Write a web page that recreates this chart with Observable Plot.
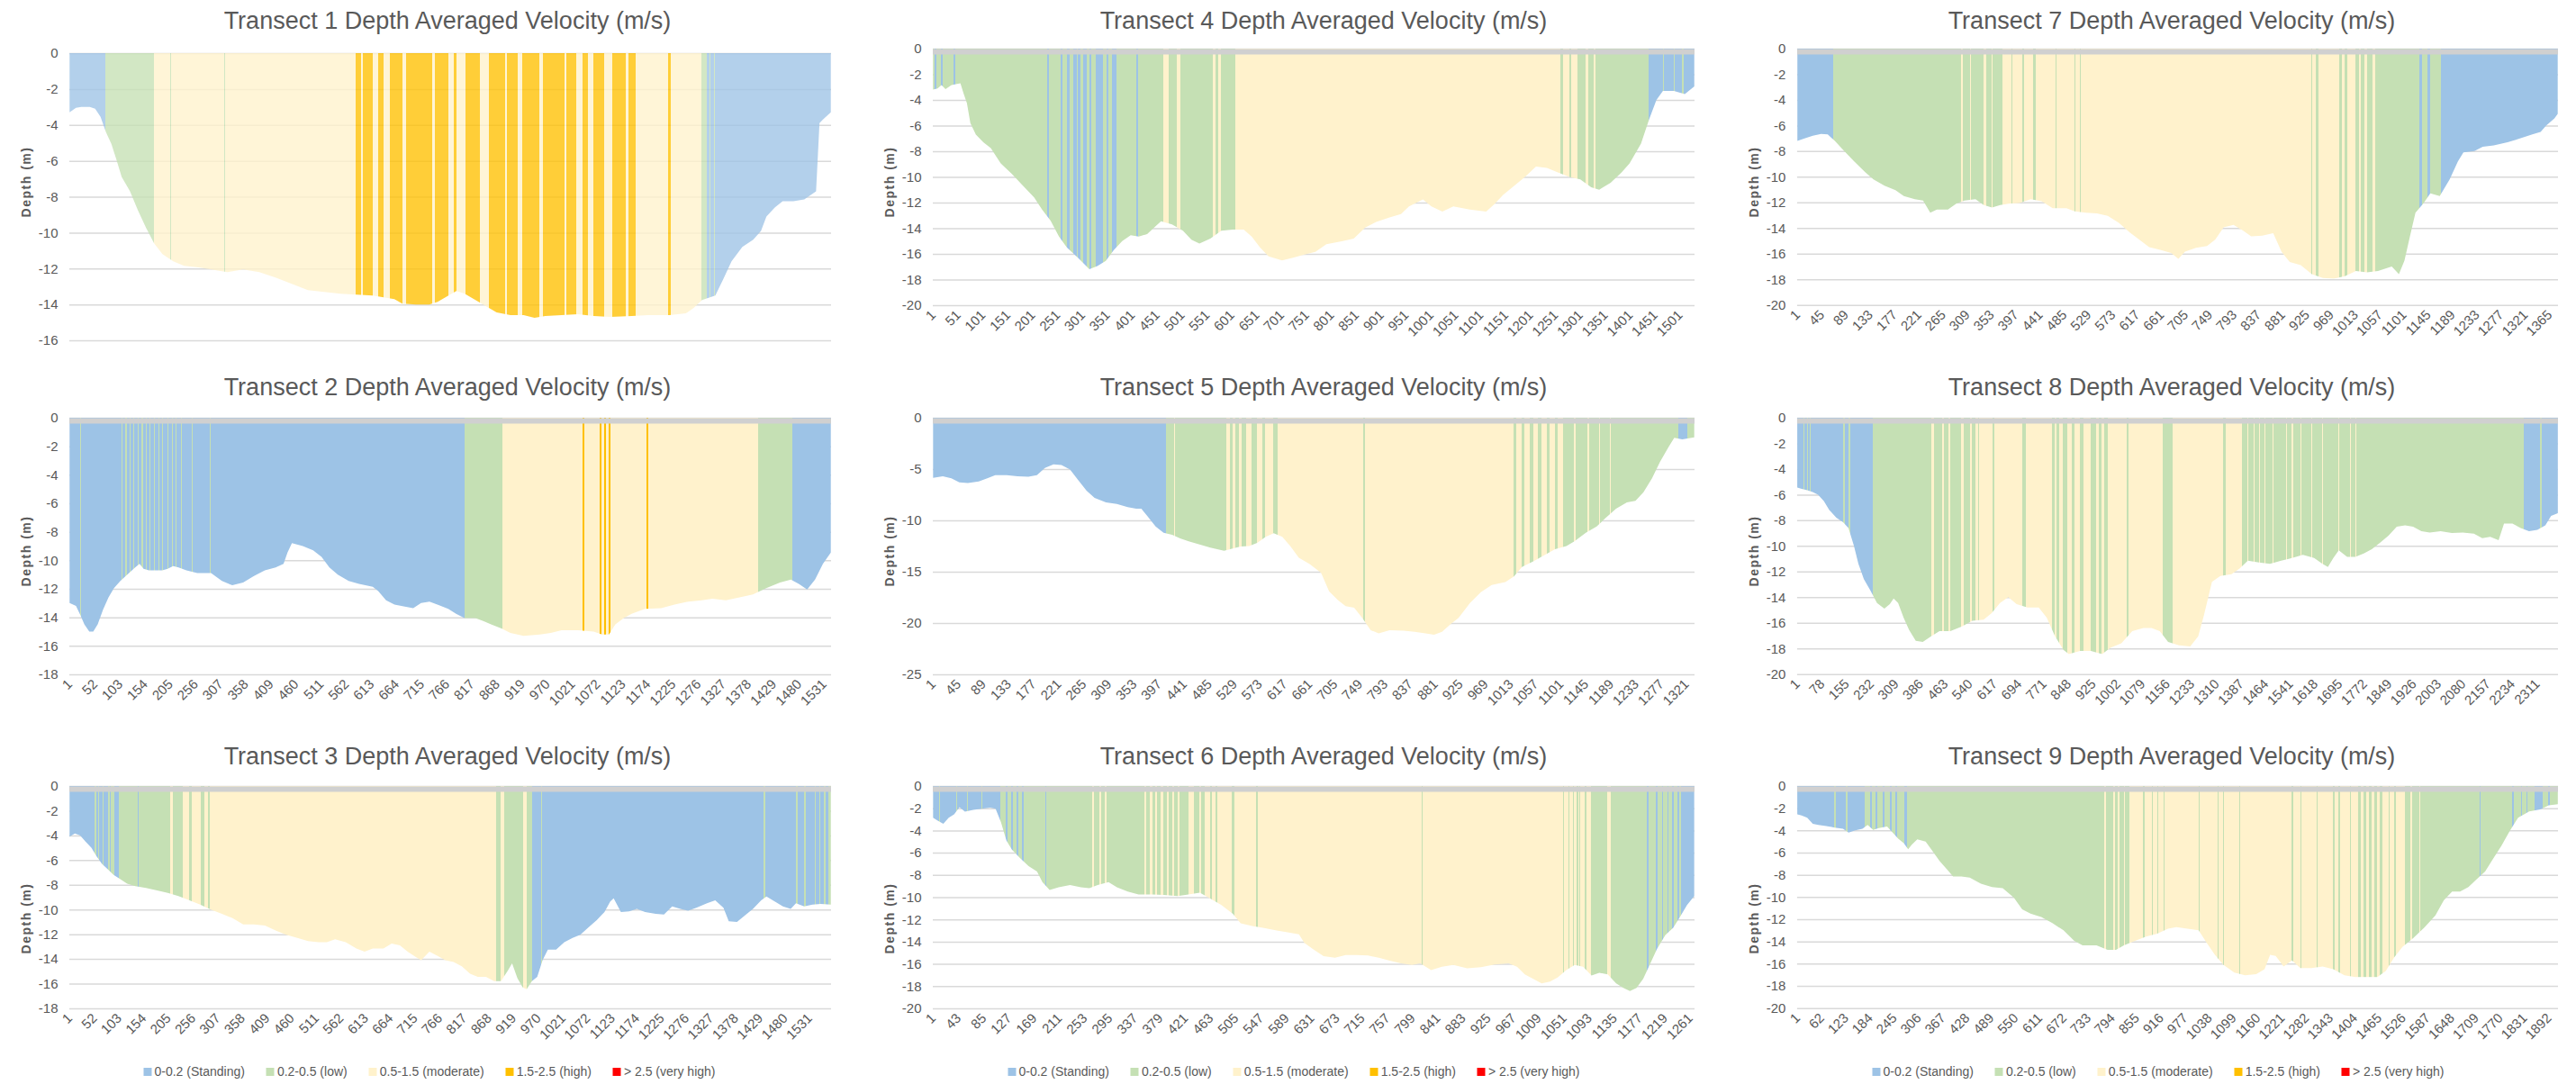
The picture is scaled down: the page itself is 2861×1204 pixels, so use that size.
<!DOCTYPE html>
<html><head><meta charset="utf-8">
<script src="https://cdn.jsdelivr.net/npm/d3@7"></script>
<script src="https://cdn.jsdelivr.net/npm/@observablehq/plot@0.6"></script>
<style>
body{margin:0;background:#fff;width:2861px;height:1204px;position:relative;overflow:hidden;font-family:"Liberation Sans",Arial,sans-serif;}
.title{position:absolute;font-size:27px;color:#595959;white-space:nowrap;transform:translateX(-50%);line-height:30px;}
.panel{position:absolute;}
.panel svg text{font-size:15px;fill:#595959;font-family:"Liberation Sans",Arial,sans-serif;}
.ylab{position:absolute;font-size:14px;font-weight:bold;letter-spacing:1.5px;color:#595959;white-space:nowrap;transform:translate(-50%,-50%) rotate(-90deg);line-height:16px;}
.legend{position:absolute;display:flex;gap:24px;transform:translateX(-50%);font-size:14px;color:#595959;white-space:nowrap;line-height:18px;}
.legend .sw{display:inline-block;width:9px;height:9px;margin-right:3px;vertical-align:0px;}
</style></head><body>
<script>
// ---------- DATA ----------
const categories = ["0-0.2 (Standing)", "0.2-0.5 (low)", "0.5-1.5 (moderate)", "1.5-2.5 (high)", "> 2.5 (very high)"];
const categoryColors = ["#9dc3e6", "#c5e0b4", "#fff2cc", "#ffc000", "#ff0000"];
const transectTitles = [1,2,3,4,5,6,7,8,9].map(t => `Transect ${t} Depth Averaged Velocity (m/s)`);
const yAxisTitle = "Depth (m)";
const ensembleCount = [1550, 1545, 1575, 1530, 1335, 1268, 1380, 2376, 1915];
const labelStep = [0, 51, 51, 50, 44, 42, 44, 77, 61];
const depthMin = [-16, -18, -18, -20, -25, -20, -20, -20, -20];
const depthTick = [2, 2, 2, 2, 5, 2, 2, 2, 2];

// bed profiles: [ensemble, depth (m)]
const bed1 = [[1,-3.3],[14,-3.05],[25,-3.0],[42,-3.0],[53,-3.1],[64,-3.55],[75,-4.4],[86,-5.05],[96,-5.9],[107,-6.9],[124,-7.7],[140,-8.75],[157,-9.75],[173,-10.6],[190,-11.2],[212,-11.6],[234,-11.85],[267,-11.95],[300,-12.1],[322,-12.2],[354,-12.05],[387,-12.2],[420,-12.5],[453,-12.85],[486,-13.2],[519,-13.3],[552,-13.4],[585,-13.45],[618,-13.5],[640,-13.6],[662,-13.7],[678,-13.95],[706,-14.0],[733,-14.0],[750,-13.85],[772,-13.5],[788,-13.25],[805,-13.4],[827,-13.75],[848,-14.1],[870,-14.45],[898,-14.6],[925,-14.6],[947,-14.75],[969,-14.65],[1002,-14.6],[1035,-14.55],[1068,-14.65],[1101,-14.7],[1145,-14.65],[1178,-14.6],[1222,-14.6],[1255,-14.5],[1271,-14.2],[1288,-13.75],[1304,-13.6],[1315,-13.5],[1331,-12.6],[1348,-11.6],[1370,-10.8],[1392,-10.4],[1408,-9.9],[1419,-9.1],[1436,-8.6],[1452,-8.25],[1474,-8.25],[1496,-8.15],[1520,-7.7],[1527,-3.9],[1534,-3.7],[1550,-3.3]];
const bed2 = [[1,-13.0],[14,-13.2],[23,-13.85],[31,-14.5],[41,-15.0],[49,-15.0],[58,-14.5],[69,-13.45],[80,-12.6],[91,-11.95],[104,-11.45],[118,-11.0],[134,-10.5],[143,-10.25],[151,-10.6],[162,-10.7],[189,-10.7],[200,-10.6],[211,-10.4],[222,-10.5],[238,-10.7],[260,-10.9],[288,-10.9],[310,-11.45],[331,-11.75],[353,-11.55],[375,-11.1],[397,-10.7],[419,-10.5],[435,-10.25],[443,-9.45],[452,-8.8],[474,-9.0],[495,-9.3],[512,-9.75],[528,-10.5],[545,-11.0],[567,-11.45],[588,-11.65],[616,-11.85],[627,-12.15],[643,-12.8],[660,-13.1],[681,-13.25],[698,-13.35],[714,-13.0],[731,-12.9],[747,-13.1],[769,-13.4],[785,-13.75],[802,-14.05],[824,-14.05],[840,-14.25],[856,-14.5],[878,-14.8],[895,-15.1],[922,-15.3],[955,-15.2],[977,-15.1],[999,-14.9],[1032,-14.9],[1064,-15.0],[1081,-15.2],[1095,-15.2],[1108,-14.5],[1125,-14.05],[1141,-13.75],[1168,-13.4],[1201,-13.35],[1228,-13.1],[1256,-12.9],[1283,-12.8],[1305,-12.7],[1332,-12.8],[1360,-12.6],[1387,-12.4],[1414,-11.95],[1442,-11.55],[1464,-11.35],[1480,-11.65],[1497,-12.05],[1513,-11.35],[1529,-10.25],[1545,-9.45]];
const bed3 = [[1,-4.1],[12,-3.85],[23,-4.0],[34,-4.5],[46,-5.0],[57,-5.7],[68,-6.3],[79,-6.7],[92,-7.2],[106,-7.55],[120,-7.9],[137,-8.1],[159,-8.25],[182,-8.45],[204,-8.65],[226,-8.9],[249,-9.25],[271,-9.6],[293,-10.0],[316,-10.35],[338,-10.7],[360,-11.2],[382,-11.2],[405,-11.3],[427,-11.7],[449,-12.05],[472,-12.3],[494,-12.55],[516,-12.65],[533,-12.65],[550,-12.4],[572,-12.65],[594,-13.15],[611,-13.4],[628,-13.15],[650,-13.15],[667,-12.75],[684,-12.9],[700,-13.4],[717,-13.85],[728,-14.1],[745,-13.4],[762,-13.75],[778,-14.1],[795,-14.25],[812,-14.6],[829,-15.2],[845,-15.45],[862,-15.45],[879,-15.8],[893,-15.8],[907,-14.95],[916,-14.35],[927,-15.55],[938,-16.3],[946,-16.45],[957,-15.8],[968,-15.45],[979,-14.1],[990,-13.25],[1007,-13.25],[1024,-12.65],[1041,-12.3],[1057,-12.05],[1074,-11.45],[1091,-10.85],[1107,-10.2],[1119,-9.35],[1126,-9.1],[1141,-10.2],[1158,-10.15],[1174,-9.95],[1191,-10.2],[1213,-10.35],[1230,-10.4],[1247,-9.75],[1264,-9.95],[1280,-10.1],[1297,-9.85],[1319,-9.5],[1336,-9.25],[1353,-9.85],[1364,-10.95],[1381,-11.0],[1398,-10.45],[1414,-9.95],[1431,-9.25],[1442,-8.95],[1459,-9.35],[1476,-9.75],[1492,-9.95],[1503,-9.5],[1520,-9.75],[1537,-9.6],[1554,-9.55],[1575,-9.6]];
const bed4 = [[1,-3.2],[10,-3.1],[18,-2.85],[26,-3.15],[38,-2.85],[49,-2.75],[56,-2.7],[62,-3.45],[69,-4.25],[76,-5.8],[87,-6.7],[102,-7.3],[117,-7.75],[137,-8.95],[159,-9.75],[182,-10.7],[204,-11.6],[220,-12.55],[237,-13.4],[254,-14.65],[270,-15.5],[292,-16.3],[315,-17.2],[331,-16.95],[348,-16.55],[364,-15.7],[381,-15.0],[398,-14.55],[414,-14.65],[431,-14.45],[448,-13.85],[459,-13.45],[481,-13.7],[503,-14.2],[520,-14.9],[536,-15.2],[558,-14.8],[580,-14.2],[603,-14.1],[625,-14.1],[641,-14.65],[658,-15.5],[675,-16.2],[702,-16.5],[724,-16.3],[747,-16.05],[769,-15.85],[791,-15.25],[824,-15.0],[846,-14.8],[869,-13.95],[891,-13.5],[918,-13.15],[941,-12.9],[957,-12.3],[985,-11.75],[1002,-12.3],[1024,-12.7],[1046,-12.3],[1079,-12.55],[1112,-12.7],[1129,-12.1],[1146,-11.4],[1168,-10.7],[1190,-10.0],[1212,-9.2],[1234,-9.3],[1256,-9.65],[1279,-10.0],[1301,-10.2],[1323,-10.8],[1339,-11.0],[1362,-10.45],[1384,-9.65],[1400,-8.95],[1423,-7.4],[1439,-5.55],[1454,-4.0],[1467,-3.3],[1489,-3.3],[1511,-3.55],[1530,-2.95]];
const bed5 = [[1,-5.85],[18,-5.7],[33,-5.9],[47,-6.3],[62,-6.35],[81,-6.2],[96,-5.9],[110,-5.6],[130,-5.6],[149,-5.7],[168,-5.75],[183,-5.6],[197,-4.9],[212,-4.55],[226,-4.6],[241,-5.05],[255,-6.05],[270,-7.1],[284,-7.8],[304,-8.25],[323,-8.4],[342,-8.7],[357,-8.85],[366,-8.85],[376,-9.55],[391,-10.6],[405,-11.2],[420,-11.4],[434,-11.75],[449,-12.05],[468,-12.35],[487,-12.65],[511,-12.95],[526,-12.75],[540,-12.55],[555,-12.5],[569,-12.2],[584,-11.6],[598,-11.25],[613,-11.6],[627,-12.5],[642,-13.65],[661,-14.25],[681,-15.1],[695,-16.9],[710,-17.75],[724,-18.35],[739,-18.5],[753,-19.5],[768,-20.7],[782,-21.0],[801,-20.7],[826,-20.75],[845,-20.85],[864,-21.0],[879,-21.15],[893,-20.85],[908,-20.1],[922,-19.5],[942,-18.05],[961,-17.0],[980,-16.3],[1004,-16.0],[1019,-15.45],[1033,-14.55],[1053,-14.0],[1072,-13.4],[1091,-12.8],[1111,-12.5],[1125,-12.05],[1145,-11.2],[1164,-10.6],[1178,-9.85],[1198,-8.85],[1217,-8.25],[1232,-8.1],[1246,-7.25],[1261,-5.9],[1275,-4.3],[1290,-2.85],[1300,-1.95],[1314,-2.1],[1335,-1.9]];
const bed6 = [[1,-2.85],[8,-3.1],[18,-3.4],[27,-2.85],[36,-2.55],[45,-1.9],[54,-2.3],[68,-2.15],[82,-2.05],[96,-1.95],[105,-2.05],[114,-3.25],[123,-4.9],[132,-5.7],[146,-6.5],[160,-7.2],[174,-7.7],[183,-8.65],[195,-9.35],[210,-9.1],[229,-8.9],[247,-9.1],[261,-9.2],[275,-8.9],[293,-8.65],[307,-9.1],[325,-9.5],[343,-9.75],[366,-9.75],[385,-9.8],[408,-9.9],[426,-9.75],[445,-9.6],[463,-10.15],[481,-10.7],[500,-11.5],[513,-12.35],[532,-12.6],[550,-12.75],[573,-13.0],[591,-13.15],[610,-13.35],[619,-14.1],[633,-14.65],[651,-15.3],[670,-15.45],[688,-15.2],[706,-15.2],[725,-15.25],[743,-15.45],[761,-15.7],[780,-15.95],[798,-16.1],[812,-15.95],[830,-16.55],[848,-16.25],[867,-16.1],[890,-16.4],[913,-16.3],[936,-16.05],[959,-15.95],[973,-16.25],[986,-16.95],[1000,-17.35],[1014,-17.75],[1028,-17.6],[1041,-17.2],[1055,-16.55],[1069,-16.1],[1083,-16.25],[1097,-17.05],[1110,-16.8],[1124,-16.95],[1138,-17.75],[1150,-18.15],[1161,-18.45],[1172,-18.15],[1183,-17.35],[1195,-15.95],[1206,-14.65],[1220,-13.4],[1233,-12.75],[1244,-11.8],[1256,-10.7],[1268,-9.9]];
const bed7 = [[1,-7.2],[14,-7.0],[29,-6.8],[44,-6.65],[56,-6.7],[69,-7.2],[84,-7.9],[104,-8.8],[124,-9.65],[139,-10.2],[159,-10.7],[179,-11.05],[194,-11.5],[214,-11.75],[229,-11.85],[242,-12.8],[254,-12.55],[274,-12.55],[289,-12.1],[304,-11.85],[324,-11.75],[339,-12.2],[354,-12.4],[369,-12.2],[384,-12.1],[404,-12.05],[424,-11.75],[444,-11.9],[464,-12.45],[489,-12.45],[504,-12.7],[524,-12.8],[544,-12.85],[564,-13.05],[584,-13.6],[604,-14.35],[624,-15.0],[639,-15.5],[659,-15.7],[679,-15.95],[692,-16.4],[704,-15.85],[724,-15.55],[744,-15.4],[759,-14.9],[774,-13.95],[792,-13.75],[809,-14.2],[824,-14.65],[844,-14.6],[864,-14.4],[879,-15.85],[894,-16.65],[914,-16.9],[934,-17.6],[954,-17.9],[974,-17.95],[994,-17.75],[1014,-17.35],[1034,-17.45],[1054,-17.35],[1079,-17.0],[1092,-17.6],[1102,-16.55],[1112,-14.65],[1122,-12.8],[1136,-12.1],[1149,-11.3],[1166,-11.5],[1184,-10.2],[1199,-8.8],[1209,-8.1],[1229,-8.0],[1244,-7.65],[1264,-7.55],[1289,-7.3],[1309,-7.05],[1334,-6.7],[1349,-6.5],[1359,-6.0],[1374,-5.45],[1380,-5.1]];
const bed8 = [[1,-5.45],[15,-5.55],[32,-5.65],[49,-5.8],[66,-6.0],[84,-6.5],[101,-7.2],[123,-7.8],[144,-8.15],[161,-8.6],[178,-10.0],[192,-11.4],[209,-12.6],[230,-13.5],[250,-14.45],[273,-14.9],[290,-14.55],[302,-14.1],[316,-14.45],[333,-15.6],[350,-16.55],[371,-17.4],[393,-17.5],[419,-17.05],[445,-16.65],[479,-16.65],[514,-16.3],[548,-15.85],[583,-15.75],[608,-15.25],[634,-14.45],[660,-14.0],[686,-14.55],[720,-14.8],[755,-14.8],[780,-15.6],[806,-17.05],[832,-18.1],[849,-18.45],[884,-18.2],[918,-18.2],[953,-18.45],[979,-17.95],[1013,-17.6],[1047,-16.65],[1082,-16.4],[1107,-16.4],[1133,-16.65],[1159,-17.5],[1193,-17.75],[1228,-17.85],[1253,-17.05],[1271,-15.4],[1296,-12.8],[1322,-12.35],[1357,-12.2],[1383,-11.75],[1408,-11.15],[1443,-11.3],[1477,-11.4],[1512,-11.15],[1546,-10.95],[1580,-10.7],[1615,-10.95],[1641,-11.4],[1658,-11.65],[1675,-10.95],[1692,-10.35],[1718,-10.85],[1744,-10.85],[1770,-10.6],[1795,-10.25],[1821,-9.75],[1847,-9.2],[1873,-8.5],[1899,-8.4],[1924,-8.5],[1950,-8.85],[1976,-8.95],[2010,-8.85],[2045,-9.0],[2079,-8.95],[2114,-9.05],[2140,-9.4],[2165,-9.3],[2191,-9.55],[2208,-8.25],[2234,-8.25],[2260,-8.6],[2286,-8.85],[2312,-8.75],[2337,-8.4],[2355,-7.65],[2376,-7.45]];
const bed9 = [[1,-2.55],[12,-2.65],[26,-2.85],[40,-3.4],[54,-3.5],[74,-3.6],[95,-3.75],[116,-3.85],[130,-4.2],[147,-4.0],[165,-3.85],[178,-3.5],[192,-3.95],[206,-3.8],[227,-3.65],[241,-4.2],[255,-4.75],[269,-5.15],[280,-5.7],[289,-5.3],[303,-4.8],[324,-5.0],[338,-5.7],[359,-6.75],[380,-7.6],[393,-8.15],[414,-8.15],[435,-8.25],[463,-8.8],[491,-9.1],[518,-9.2],[546,-10.05],[567,-11.1],[588,-11.5],[615,-11.8],[643,-12.35],[671,-13.0],[698,-13.95],[719,-14.35],[754,-14.35],[782,-14.75],[803,-14.75],[823,-14.35],[851,-13.95],[879,-13.55],[907,-13.3],[934,-12.85],[955,-12.7],[983,-12.85],[1011,-13.0],[1031,-14.1],[1052,-15.2],[1073,-16.1],[1101,-16.8],[1128,-17.05],[1156,-16.95],[1177,-16.5],[1191,-15.2],[1205,-15.3],[1225,-16.25],[1246,-15.7],[1267,-16.4],[1295,-16.4],[1323,-16.25],[1350,-16.5],[1378,-17.05],[1406,-17.2],[1433,-17.2],[1461,-17.2],[1482,-16.65],[1503,-15.45],[1524,-14.5],[1551,-13.7],[1579,-12.75],[1607,-11.65],[1628,-10.3],[1649,-9.5],[1669,-9.5],[1690,-9.1],[1711,-8.4],[1732,-7.7],[1753,-6.5],[1773,-5.4],[1794,-4.05],[1815,-2.85],[1843,-2.3],[1871,-2.1],[1892,-1.75],[1915,-1.65]];

// velocity class runs: [first ensemble, class index]
const runs1 = [[1,0],[75,1],[173,2],[206,1],[208,2],[316,1],[318,2],[583,3],[594,2],[598,3],[618,2],[629,3],[640,2],[653,3],[678,2],[686,3],[739,2],[744,3],[772,2],[783,3],[788,2],[807,3],[837,2],[854,3],[887,2],[892,3],[914,2],[923,3],[958,2],[964,3],[1008,2],[1013,3],[1033,2],[1046,3],[1057,2],[1068,3],[1090,2],[1106,3],[1134,2],[1139,3],[1154,2],[1220,3],[1224,2],[1288,1],[1299,0],[1304,1],[1306,0],[1312,1],[1314,0]];
const runs2 = [[1,0],[23,1],[25,0],[107,1],[109,0],[115,1],[117,0],[124,1],[126,0],[131,1],[133,0],[139,1],[141,0],[148,1],[150,0],[156,1],[158,0],[164,1],[166,0],[173,1],[175,0],[182,1],[184,0],[189,1],[191,0],[200,1],[202,0],[209,1],[211,0],[217,1],[219,0],[227,1],[229,0],[249,1],[251,0],[285,1],[287,0],[802,1],[880,2],[1042,3],[1046,2],[1077,3],[1081,2],[1085,3],[1089,2],[1095,3],[1099,2],[1171,3],[1175,2],[1398,1],[1467,0]];
const runs3 = [[1,0],[53,1],[56,0],[61,1],[63,0],[70,1],[72,0],[81,1],[84,0],[87,1],[95,0],[104,1],[143,0],[145,1],[210,2],[215,1],[235,2],[249,1],[254,2],[273,1],[280,2],[288,1],[291,2],[884,1],[893,2],[901,1],[940,2],[946,1],[957,0],[977,1],[979,0],[1437,1],[1440,0],[1504,1],[1507,0],[1520,1],[1523,0],[1543,1],[1545,0],[1552,1],[1554,0],[1562,1],[1565,0],[1571,1]];
const runs4 = [[1,1],[4,0],[8,1],[18,0],[21,1],[43,0],[46,1],[231,0],[234,1],[257,0],[261,1],[270,0],[276,1],[284,0],[290,1],[292,0],[298,1],[303,0],[310,1],[315,0],[320,1],[328,0],[342,1],[350,0],[354,1],[361,0],[370,1],[409,0],[414,1],[464,2],[475,1],[492,2],[498,1],[564,2],[569,1],[575,2],[580,1],[608,2],[1262,1],[1267,2],[1279,1],[1283,2],[1295,1],[1312,2],[1317,1],[1328,2],[1332,1],[1439,0],[1467,1],[1470,0],[1489,1],[1492,0],[1505,1],[1509,0]];
const runs5 = [[1,0],[409,1],[424,2],[426,1],[516,2],[521,1],[526,2],[531,1],[538,2],[543,1],[550,2],[560,1],[569,2],[579,1],[584,2],[598,1],[606,2],[756,1],[758,2],[1019,1],[1024,2],[1033,1],[1038,2],[1048,1],[1053,2],[1062,1],[1067,2],[1077,1],[1082,2],[1091,1],[1096,2],[1106,1],[1125,2],[1127,1],[1149,2],[1151,1],[1169,2],[1171,1],[1188,2],[1190,1],[1307,0],[1323,1]];
const runs6 = [[1,0],[11,1],[13,0],[40,1],[42,0],[58,1],[60,0],[82,1],[84,0],[114,1],[123,0],[125,1],[132,0],[134,1],[141,0],[143,1],[150,0],[152,1],[188,0],[190,1],[266,2],[269,1],[279,2],[282,1],[288,2],[291,1],[353,2],[356,1],[362,2],[366,1],[371,2],[374,1],[380,2],[385,1],[391,2],[394,1],[399,2],[402,1],[408,2],[411,1],[426,2],[436,1],[445,2],[448,1],[454,2],[462,1],[465,2],[471,1],[474,2],[499,1],[503,2],[539,1],[542,2],[815,1],[817,2],[1050,1],[1052,2],[1059,1],[1061,2],[1066,1],[1068,2],[1073,1],[1075,2],[1077,1],[1079,2],[1086,1],[1089,2],[1096,1],[1124,2],[1129,1],[1190,0],[1192,1],[1205,0],[1207,1],[1215,0],[1217,1],[1224,0],[1226,1],[1232,0],[1235,1],[1240,0],[1243,1],[1246,0]];
const runs7 = [[1,0],[66,1],[299,2],[302,1],[314,2],[317,1],[339,2],[344,1],[354,2],[356,1],[374,2],[389,1],[392,2],[409,1],[412,2],[429,1],[434,2],[469,1],[471,2],[504,1],[506,2],[514,1],[516,2],[934,1],[936,2],[942,1],[946,2],[984,1],[989,2],[994,1],[999,2],[1014,1],[1020,2],[1024,1],[1030,2],[1034,1],[1044,2],[1049,1],[1129,0],[1134,1],[1144,0],[1149,1],[1169,0]];
const runs8 = [[1,0],[20,1],[23,0],[32,1],[35,0],[41,1],[44,0],[144,1],[149,0],[161,1],[166,0],[238,1],[419,2],[428,1],[453,2],[459,1],[474,2],[479,1],[514,2],[522,1],[540,2],[548,1],[557,2],[565,1],[570,2],[612,1],[617,2],[703,1],[715,2],[798,1],[806,2],[811,1],[818,2],[832,1],[846,2],[858,1],[866,2],[884,1],[894,2],[918,1],[935,2],[944,1],[952,2],[961,1],[970,2],[1030,1],[1035,2],[1142,1],[1173,2],[1331,1],[1340,2],[1391,1],[1408,2],[1411,1],[1426,2],[1429,1],[1443,2],[1446,1],[1460,2],[1463,1],[1486,2],[1489,1],[1529,2],[1532,1],[1546,2],[1549,1],[1572,2],[1575,1],[1606,2],[1609,1],[1641,2],[1644,1],[1692,2],[1695,1],[1727,2],[1730,1],[1744,2],[1747,1],[2269,0],[2321,1],[2325,0]];
const runs9 = [[1,0],[95,1],[99,0],[123,1],[127,0],[171,1],[185,0],[189,1],[199,0],[203,1],[216,0],[220,1],[234,0],[238,1],[248,0],[252,1],[271,0],[278,1],[775,2],[779,1],[796,2],[800,1],[809,2],[813,1],[823,2],[827,1],[837,2],[872,1],[875,2],[893,1],[896,2],[907,1],[910,2],[923,1],[926,2],[1011,1],[1014,2],[1059,1],[1062,2],[1073,1],[1076,2],[1114,1],[1117,2],[1246,1],[1249,2],[1267,1],[1270,2],[1308,1],[1311,2],[1350,1],[1353,2],[1364,1],[1367,2],[1392,1],[1395,2],[1413,1],[1420,2],[1427,1],[1434,2],[1441,1],[1447,2],[1454,1],[1460,2],[1468,1],[1474,2],[1490,1],[1493,2],[1504,1],[1507,2],[1531,1],[1545,2],[1548,1],[1566,2],[1569,1],[1718,0],[1720,1],[1801,0],[1804,1],[1822,0],[1825,1],[1836,0],[1839,1],[1857,0],[1878,1],[1892,0],[1895,1]];

const beds = [bed1, bed2, bed3, bed4, bed5, bed6, bed7, bed8, bed9];
const runs = [runs1, runs2, runs3, runs4, runs5, runs6, runs7, runs8, runs9];

// ---------- LAYOUT ----------
const colX = [0, 954, 1908];
const colMarginLeft = [77, 82, 88];
const titleCenter = [497, 1470, 2412];
const legendCenter = [477, 1437, 2397];
const yTitleCenterY = [202, 612, 1020];
const frameW = 846;
const svgTop = [40, 445, 855];
const titleTop = [8, 415, 825];
const FONT = '"Liberation Sans", Arial, sans-serif';
const ns = "http://www.w3.org/2000/svg";

function drawPanel(t) {
  const i = t - 1, col = Math.floor(i / 3), row = i % 3;
  const N = ensembleCount[i], dMin = depthMin[i];
  const frameTop = row === 0 ? (t === 1 ? 59 : 54) : row === 1 ? 464 : 873;
  const frameBottom = row === 0 ? (t === 1 ? 378 : 339) : row === 1 ? 749 : 1120;
  const top = svgTop[row];
  const mb = 60;
  const ml = colMarginLeft[col];
  const width = 954;
  const height = frameBottom - top + mb;
  const yTicks = d3.range(0, dMin - 0.001, -depthTick[i]);
  const xTicks = labelStep[i] ? d3.range(1, N + 1, labelStep[i]) : [];
  const runRows = runs[i].map(([s, c], k, a) => ({
    x1: s - 0.5,
    x2: (k + 1 < a.length ? a[k + 1][0] : N + 1) - 0.5,
    y1: 0, y2: dMin, c
  }));
  const marks = [
    Plot.ruleY(yTicks, {stroke: "#d9d9d9", strokeWidth: 1.5}),
    Plot.rect(runRows, {x1: "x1", x2: "x2", y1: "y1", y2: "y2",
      fill: d => categoryColors[d.c], fillOpacity: t === 1 ? 0.78 : 1, shapeRendering: "crispEdges"}),
    Plot.areaY(beds[i], {x: d => d[0], y1: () => 0, y2: d => d[1], fill: "#ffffff", fillOpacity: 0})
  ];
  if (t !== 1) marks.push(Plot.ruleY([0], {stroke: "#d0d0d0", strokeWidth: 6, dy: 3}));
  marks.push(Plot.axisY({ticks: yTicks, tickSize: 0, tickPadding: 13, tickFormat: d => String(d),
    fontSize: 15, fill: "#595959", label: null}));
  if (xTicks.length) marks.push(Plot.axisX({ticks: xTicks, tickSize: 0, tickPadding: 8, tickRotate: -45,
    tickFormat: d => String(d), fontSize: 15, fill: "#595959", label: null}));

  const svg = Plot.plot({
    width, height,
    marginLeft: ml, marginRight: width - ml - frameW,
    marginTop: frameTop - top, marginBottom: mb,
    x: {domain: [0.5, N + 0.5], axis: xTicks.length ? undefined : null},
    y: {domain: [dMin, 0]},
    color: {type: "identity"},
    style: {fontFamily: FONT, fontSize: "15px", color: "#595959", background: "transparent", overflow: "visible"},
    marks
  });

  // clip the velocity bands to the water column drawn by the area mark
  const areaPath = svg.querySelector('g[aria-label="area"] path');
  const rectG = svg.querySelector('g[aria-label="rect"]');
  if (areaPath && rectG) {
    const defs = document.createElementNS(ns, "defs");
    const cp = document.createElementNS(ns, "clipPath");
    cp.setAttribute("id", "water-" + t);
    const p = document.createElementNS(ns, "path");
    p.setAttribute("d", areaPath.getAttribute("d"));
    const tr = areaPath.parentNode.getAttribute("transform");
    if (tr) p.setAttribute("transform", tr);
    cp.appendChild(p); defs.appendChild(cp);
    svg.insertBefore(defs, svg.firstChild);
    rectG.setAttribute("clip-path", `url(#water-${t})`);
  }

  const wrap = document.createElement("div");
  wrap.className = "panel";
  wrap.style.left = colX[col] + "px";
  wrap.style.top = top + "px";
  wrap.appendChild(svg);
  document.body.appendChild(wrap);

  const title = document.createElement("div");
  title.className = "title";
  title.textContent = transectTitles[i];
  title.style.left = titleCenter[col] + "px";
  title.style.top = titleTop[row] + "px";
  document.body.appendChild(title);

  const ylab = document.createElement("div");
  ylab.className = "ylab";
  ylab.textContent = yAxisTitle;
  ylab.style.left = (colX[col] + ml - 48) + "px";
  ylab.style.top = yTitleCenterY[row] + "px";
  document.body.appendChild(ylab);
}

for (let t = 1; t <= 9; t++) drawPanel(t);

// legends under the bottom row
for (let col = 0; col < 3; col++) {
  const lg = document.createElement("div");
  lg.className = "legend";
  lg.style.left = legendCenter[col] + "px";
  lg.style.top = "1181px";
  categories.forEach((c, k) => {
    const item = document.createElement("span");
    const sw = document.createElement("span");
    sw.className = "sw";
    sw.style.background = categoryColors[k];
    item.appendChild(sw);
    item.appendChild(document.createTextNode(c));
    lg.appendChild(item);
  });
  document.body.appendChild(lg);
}
</script>
</body></html>
